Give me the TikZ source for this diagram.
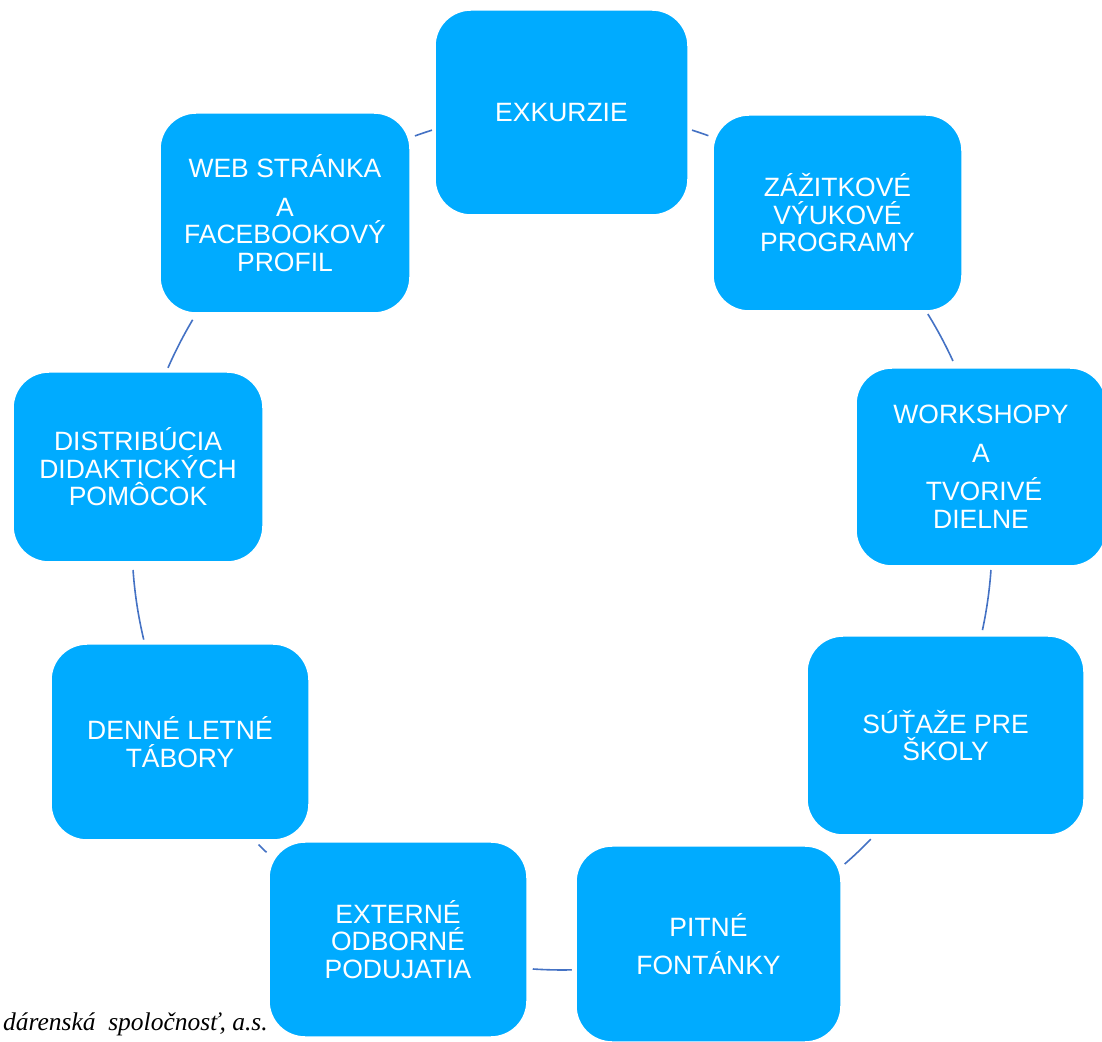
\documentclass[tikz,border=0pt]{standalone}
\usepackage{fontspec}
\setmainfont{Liberation Sans}
\newfontfamily\serifit{Liberation Serif}
\definecolor{boxblue}{RGB}{0,171,255}
\definecolor{connblue}{RGB}{68,114,196}
\begin{document}
\begin{tikzpicture}[x=1pt,y=1pt,
  box/.style={draw=white, line width=1.5pt, fill=boxblue, rounded corners=36pt,
    text=white, align=center, font=\fontsize{26.5}{27.5}\selectfont,
    inner sep=0pt, outer sep=0pt},
  conn/.style={draw=connblue, line width=1.6pt}]
\clip (0,0) rectangle (1102,1041);
\useasboundingbox (0,0) rectangle (1102,1041);
\coordinate (ctr) at (562,501);
% connectors (arcs of the cycle)
\foreach \a/\b in {107.6/110, 70.1/72.4, 24.6/31.7, -12.1/-4.0, -48.9/-44.1,
                   -93.9/-88.7, 225.1/226.6, 184.0/193.4, 149.2/156.4}{
  \draw[conn] ([shift={(\a:430)}]ctr) arc[start angle=\a, end angle=\b, radius=430];
}
% source line
\node[anchor=base east, inner sep=0pt, font=\serifit\itshape\fontsize{25.5}{27}\selectfont] (src) at (268,11) {dárenská\ \ spoločnosť, a.s.};
% boxes
\node[box, minimum width=253pt, minimum height=205pt] (exk) at (561.5,928.5) {EXKURZIE};
\node[box, minimum width=249pt, minimum height=196pt] (zaz) at (837.5,828) {ZÁŽITKOVÉ\\VÝUKOVÉ\\PROGRAMY};
\node[box, minimum width=250pt, minimum height=198pt] (work) at (981,574) {WORKSHOPY\\[11.5pt]A\\[10.5pt]\hspace*{6pt}TVORIVÉ\\DIELNE};
\node[box, minimum width=277pt, minimum height=199pt] (sut) at (945.5,305.5) {SÚŤAŽE PRE\\ŠKOLY};
\node[box, minimum width=265pt, minimum height=196pt] (pit) at (708.5,97) {PITNÉ\\[10.5pt]FONTÁNKY};
\node[box, minimum width=258pt, minimum height=196pt] (den) at (180,299) {DENNÉ LETNÉ\\TÁBORY};
\node[box, minimum width=258pt, minimum height=195pt] (ext) at (398,101.5) {EXTERNÉ\\ODBORNÉ\\PODUJATIA};
\node[box, minimum width=250pt, minimum height=190pt] (dis) at (138,574) {DISTRIBÚCIA\\DIDAKTICKÝCH\\POMÔCOK};
\node[box, minimum width=250pt, minimum height=200pt] (web) at (285,828) {WEB STRÁNKA\\[11.5pt]A\\FACEBOOKOVÝ\\PROFIL};
\end{tikzpicture}
\end{document}
